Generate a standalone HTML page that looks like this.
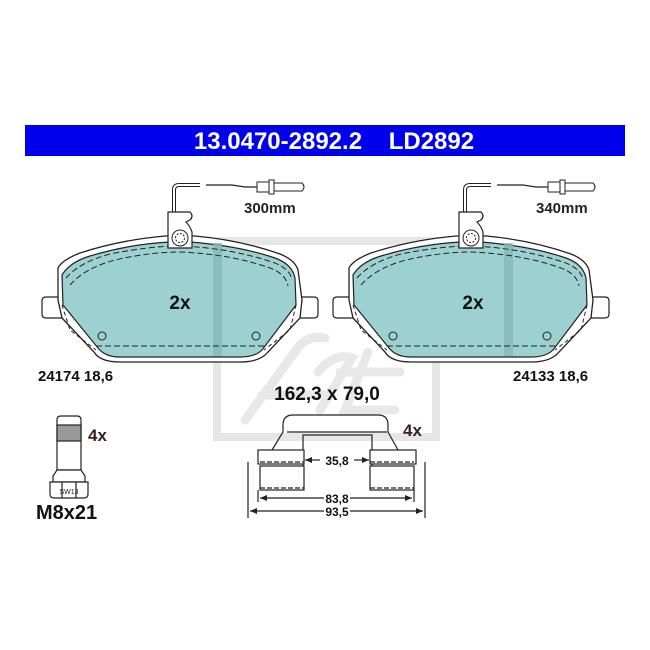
<!DOCTYPE html>
<html><head><style>
html,body{margin:0;padding:0;background:#fff;}
svg{display:block;font-family:"Liberation Sans",sans-serif;}
</style></head><body>
<svg width="650" height="650" viewBox="0 0 650 650">
<rect x="0" y="0" width="650" height="650" fill="#fff"/>
<!-- watermark -->
<g fill="none" stroke="#e6e6e6" stroke-width="8">
<rect x="217" y="241" width="219" height="196"/>
</g>
<g fill="none" stroke="#e8e8e8" stroke-width="9" stroke-linecap="round">
<path d="M245 420 L300 345 Q310 335 325 338"/>
<path d="M262 395 L330 395"/>
<path d="M318 372 Q335 352 352 358 L320 410"/>
<path d="M340 372 L400 372"/>
<path d="M368 352 L345 410 L395 410"/>
</g>
<!-- banner -->
<rect x="25" y="125" width="600" height="31" fill="#0000ee"/>
<text x="334" y="149" fill="#fff" font-size="24" font-weight="bold" text-anchor="middle">13.0470-2892.2&#160;&#160;&#160;&#160;LD2892</text>

<defs>
<g id="pad">
  <path d="M174 212 L174 190 Q174 185 179 185 L200 185" fill="none" stroke="#222" stroke-width="4"/>
  <path d="M174 212 L174 190 Q174 185 179 185 L200 185" fill="none" stroke="#fff" stroke-width="2"/>
  <path d="M206 185 L232 185 L245 187 L257 187" fill="none" stroke="#222" stroke-width="1.2"/>
  <rect x="257" y="182" width="12" height="10" fill="#fff" stroke="#222"/>
  <rect x="269" y="180" width="5" height="14" fill="#fff" stroke="#222"/>
  <path d="M274 183 L302 183 Q306 187 302 191 L274 191 Z" fill="#fff" stroke="#222"/>
  <path d="M62 297 L46 297 Q42 297 42 301 L42 314 Q42 318 46 318 L62 318 Z" fill="#fff" stroke="#222" stroke-width="1.2"/>
  <path d="M300 297 L314 297 Q318 297 318 301 L318 314 Q318 318 314 318 L300 318 Z" fill="#fff" stroke="#222" stroke-width="1.2"/>
  <path d="M58 268 Q62 260 80 253 Q120 240 165 236 L195 236 Q240 240 280 254 Q295 260 298 270 L302 300 L300 318 L268 352 Q260 362 240 362 L120 362 Q100 362 94 352 L62 318 L58 300 Z" fill="#fff" stroke="#222" stroke-width="1.3"/>
  <path d="M62 275 Q70 262 90 256 Q130 244 170 242 L190 242 Q240 246 275 258 Q292 264 295 278 L296 305 L262 350 Q255 357 240 357 L120 357 Q105 357 98 348 L63 305 Z" fill="#9dd1d1" stroke="#222" stroke-width="1.2"/>
  <rect x="213" y="243" width="9" height="113" fill="#86b8b9" opacity="0.8"/>
  <path d="M66 278 Q80 262 110 254 Q150 246 180 246 Q230 248 272 262 Q290 268 292 280" fill="none" stroke="#222" stroke-dasharray="6,3"/>
  <path d="M70 285 Q85 268 115 260 Q150 252 180 252 Q230 254 270 268 Q286 274 288 286" fill="none" stroke="#222" stroke-dasharray="6,3"/>
  <path d="M96 346 L264 346" fill="none" stroke="#222" stroke-dasharray="6,3"/>
  <path d="M62 305 L70 330 L96 350" fill="none" stroke="#222" stroke-dasharray="4,3"/>
  <path d="M296 305 L290 330 L264 350" fill="none" stroke="#222" stroke-dasharray="4,3"/>
  <circle cx="102" cy="336" r="4" fill="none" stroke="#222"/>
  <circle cx="256" cy="336" r="4" fill="none" stroke="#222"/>
  <path d="M168 248 L168 212 L190 212 Q194 216 190 220 L186 222 Q190 226 192 232 L192 248 Z" fill="#fff" stroke="#222" stroke-width="1.2"/>
  <circle cx="180" cy="238" r="8" fill="#fff" stroke="#222"/>
  <circle cx="180" cy="238" r="4.5" fill="none" stroke="#222" stroke-dasharray="2,1.5"/>
</g>
</defs>
<use href="#pad"/>
<use href="#pad" transform="translate(291,0)"/>

<text x="180" y="309" font-size="19" font-weight="bold" fill="#111" text-anchor="middle">2x</text>
<text x="473" y="309" font-size="19" font-weight="bold" fill="#111" text-anchor="middle">2x</text>
<text x="244" y="213" font-size="15" font-weight="bold" fill="#222">300mm</text>
<text x="536" y="213" font-size="15" font-weight="bold" fill="#222">340mm</text>
<text x="38" y="381" font-size="15" font-weight="bold" fill="#111">24174 18,6</text>
<text x="513" y="381" font-size="15" font-weight="bold" fill="#111">24133 18,6</text>
<text x="327" y="400" font-size="19" font-weight="bold" fill="#111" text-anchor="middle">162,3 x 79,0</text>

<g stroke="#222" stroke-width="1.2" fill="#fff">
<path d="M57 470 L57 420 Q57 416 61 416 L77 416 Q81 416 81 420 L81 470 Z"/>
<rect x="57" y="425" width="24" height="16" fill="#999"/>
<path d="M53 482 L53 476 L57 470 L81 470 L85 476 L85 482 Z"/>
<path d="M50 482 L88 482 L88 494 Q88 498 84 498 L54 498 Q50 498 50 494 Z"/>
<line x1="62" y1="482" x2="62" y2="498"/><line x1="76" y1="482" x2="76" y2="498"/>
</g>
<text x="69" y="494" font-size="7" fill="#222" text-anchor="middle">SW13</text>
<text x="88" y="441" font-size="17" font-weight="bold" fill="#3a2020">4x</text>
<text x="36" y="519" font-size="20" font-weight="bold" fill="#111">M8x21</text>

<g stroke="#222" stroke-width="1.2" fill="none">
<path d="M272 450 L283 432 L283 425 Q283 415 293 415 L378 415 Q388 415 388 425 L388 432 L398 450"/>
<line x1="287" y1="432" x2="387" y2="432"/>
<path d="M303 478 L303 435 L372 435 L372 478"/>
<rect x="258" y="450" width="46" height="14" fill="#fff"/>
<rect x="370" y="450" width="46" height="14" fill="#fff"/>
<rect x="260" y="466" width="44" height="24" fill="#fff"/>
<rect x="370" y="466" width="44" height="24" fill="#fff"/>
<line x1="260" y1="462" x2="304" y2="462" stroke-dasharray="5,2"/>
<line x1="370" y1="462" x2="414" y2="462" stroke-dasharray="5,2"/>
<line x1="260" y1="488" x2="304" y2="488" stroke-dasharray="5,2"/>
<line x1="370" y1="488" x2="414" y2="488" stroke-dasharray="5,2"/>
<line x1="248" y1="462" x2="248" y2="518"/>
<line x1="425" y1="462" x2="425" y2="518"/>
<line x1="258" y1="490" x2="258" y2="502"/>
<line x1="414" y1="490" x2="414" y2="502"/>
<line x1="305" y1="460" x2="320" y2="460"/><line x1="354" y1="460" x2="369" y2="460"/>
<line x1="260" y1="498" x2="324" y2="498"/><line x1="350" y1="498" x2="412" y2="498"/>
<line x1="250" y1="511" x2="324" y2="511"/><line x1="350" y1="511" x2="423" y2="511"/>
</g>
<g fill="#222">
<path d="M305 460 l7 -3 v6z"/><path d="M369 460 l-7 -3 v6z"/>
<path d="M260 498 l7 -3 v6z"/><path d="M412 498 l-7 -3 v6z"/>
<path d="M250 511 l7 -3 v6z"/><path d="M423 511 l-7 -3 v6z"/>
</g>
<text x="337" y="465" font-size="12" font-weight="bold" fill="#111" text-anchor="middle">35,8</text>
<text x="337" y="503" font-size="12" font-weight="bold" fill="#111" text-anchor="middle">83,8</text>
<text x="337" y="516" font-size="12" font-weight="bold" fill="#111" text-anchor="middle">93,5</text>
<text x="403" y="436" font-size="17" font-weight="bold" fill="#3a2020">4x</text>
</svg>
</body></html>
